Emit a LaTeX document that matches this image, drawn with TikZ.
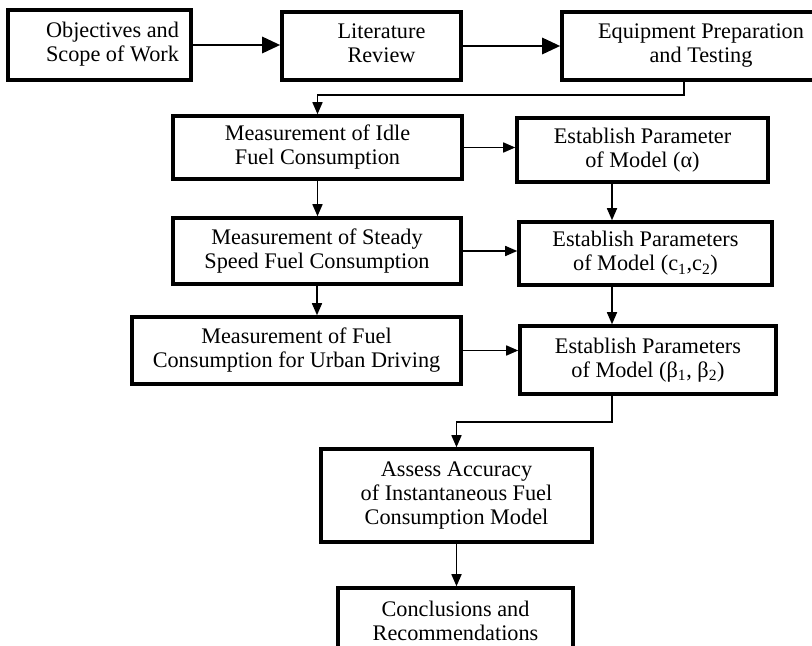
\documentclass[tikz,border=0pt]{standalone}
\usepackage{fontspec}
\setmainfont{Liberation Serif}
\usetikzlibrary{positioning,calc,arrows.meta}
\newlength\pxu
\setlength\pxu{0.03cm}

\begin{document}
\begin{tikzpicture}[
    x=0.03cm, y=-0.03cm,
    taskbox/.style={draw, line width=3pt, align=center, inner sep=2pt, font=\fontsize{19}{20.5}\selectfont},
    bigflow/.style={line width=2.4pt, -{Triangle[length=0.54cm, width=0.48cm]}},
    flow/.style={line width=1.3pt, -{Triangle[length=0.36cm, width=0.3cm]}}
]
\useasboundingbox (0,0) rectangle (812,646);

% --- Top row (text sits a little right of the box centre) ---
\node[taskbox, minimum width=183\pxu, minimum height=70\pxu] (obj) at (99.5,45) {\hspace*{26\pxu}\begin{tabular}{@{}c@{}}Objectives and\\Scope of Work\end{tabular}};
\node[taskbox, minimum width=179\pxu, minimum height=68\pxu] (lit) at (371.5,46) {\hspace*{20\pxu}\begin{tabular}{@{}c@{}}Literature\\Review\end{tabular}};
\node[taskbox, minimum width=278\pxu, minimum height=68\pxu] (equip) at (701,46) {Equipment Preparation\\and Testing};

% --- Measurements (left column) ---
\node[taskbox, minimum width=289\pxu, minimum height=63\pxu] (idle) at (317.5,147.5) {Measurement of Idle\\Fuel Consumption};
\node[taskbox, minimum width=288\pxu, minimum height=66\pxu] (steady) at (317,251) {Measurement of Steady\\Speed Fuel Consumption};
\node[taskbox, minimum width=329\pxu, minimum height=67\pxu] (urban) at (296.5,350.5) {Measurement of Fuel\\Consumption for Urban Driving};

% --- Model parameters (right column) ---
\node[taskbox, minimum width=251\pxu, minimum height=64\pxu] (alpha) at (642.5,150) {Establish Parameter\\of Model (α)};
\node[taskbox, minimum width=253\pxu, minimum height=63\pxu] (cpar) at (645.5,253.5) {Establish Parameters\\of Model (c\textsubscript{1},c\textsubscript{2})};
\node[taskbox, minimum width=256\pxu, minimum height=68\pxu] (beta) at (648,360) {Establish Parameters\\of Model (β\textsubscript{1}, β\textsubscript{2})};

% --- Bottom ---
\node[taskbox, minimum width=271\pxu, minimum height=93\pxu] (assess) at (456.5,495.5) {Assess Accuracy\\of Instantaneous Fuel\\Consumption Model};
\node[taskbox, minimum width=235\pxu, minimum height=66\pxu] (concl) at (455.5,621) {Conclusions and\\Recommendations};

\coordinate (xe) at (684,0);
\coordinate (xr) at (612,0);

% --- Connectors ---
\draw[bigflow] (obj.east) -- (obj.east -| lit.west);
\draw[bigflow] (lit.east) -- (lit.east -| equip.west);
\draw[flow] (equip.south -| xe) -- ++(0,13) -| (idle.north);

\draw[flow] (idle.south) -- (idle.south |- steady.north);
\draw[flow] (steady.south) -- (steady.south |- urban.north);

\draw[flow] (idle.east) -- (idle.east -| alpha.west);
\draw[flow] (steady.east) -- (steady.east -| cpar.west);
\draw[flow] (urban.east) -- (urban.east -| beta.west);

\draw[flow] (alpha.south -| xr) -- (cpar.north -| xr);
\draw[flow] (cpar.south -| xr) -- (beta.north -| xr);
\draw[flow] (beta.south -| xr) -- ++(0,26) -| (assess.north);
\draw[flow] (assess.south) -- (assess.south |- concl.north);

\end{tikzpicture}
\end{document}
